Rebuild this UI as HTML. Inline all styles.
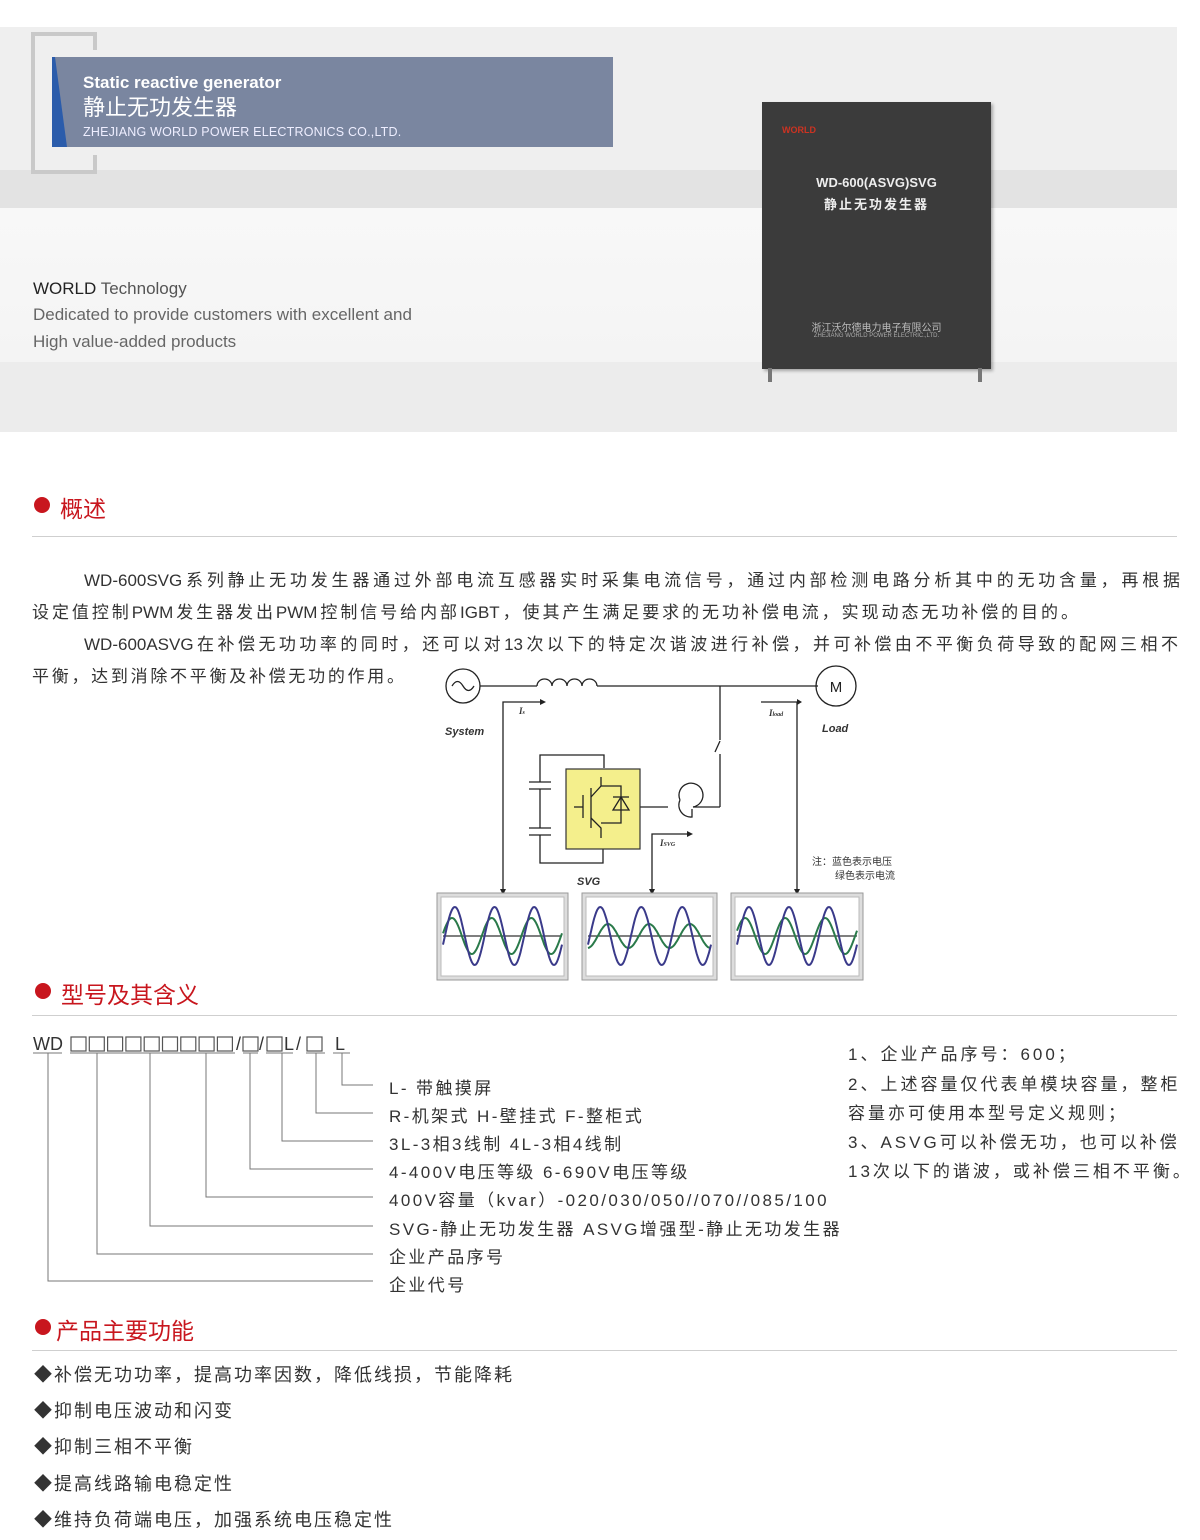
<!DOCTYPE html>
<html><head><meta charset="utf-8">
<style>
*{margin:0;padding:0;box-sizing:border-box}
body{width:1200px;height:1540px;background:#fff;position:relative;overflow:hidden;font-family:"Liberation Sans","Noto Sans CJK SC",sans-serif;color:#333}
.a{position:absolute;white-space:nowrap}
.h{color:#c8161e;font-size:23px}
.dot{position:absolute;width:16px;height:16px;border-radius:50%;background:#c8161e}
.hr{position:absolute;left:32px;width:1145px;height:1px;background:#cfcfcf}
.p{font-size:17px;color:#333;text-align:justify;text-align-last:justify;white-space:normal}
.m{font-size:17px;letter-spacing:2.4px;color:#333}
.n{font-size:17px;letter-spacing:3px;color:#333}
.f{font-size:18px;letter-spacing:2px;color:#333}
</style></head><body>
<div class="a" style="left:0;top:27px;width:1177px;height:143px;background:#efefef"></div>
<div class="a" style="left:0;top:170px;width:1177px;height:38px;background:#e3e3e3"></div>
<div class="a" style="left:0;top:208px;width:1177px;height:154px;background:linear-gradient(#f8f8f8,#f4f4f4)"></div>
<div class="a" style="left:0;top:362px;width:1177px;height:70px;background:#ececec"></div>
<div class="a" style="left:31px;top:32px;width:4px;height:142px;background:#c9c9c9"></div>
<div class="a" style="left:31px;top:32px;width:66px;height:4px;background:#c9c9c9"></div>
<div class="a" style="left:31px;top:170px;width:66px;height:4px;background:#c9c9c9"></div>
<div class="a" style="left:93px;top:32px;width:4px;height:18px;background:#c9c9c9"></div>
<div class="a" style="left:93px;top:155px;width:4px;height:18px;background:#c9c9c9"></div>
<div class="a" style="left:52px;top:57px;width:561px;height:90px;background:#7a86a0"></div>
<svg class="a" style="left:52px;top:57px" width="20" height="90"><polygon points="0,0 3,0 15,90 0,90" fill="#2b5cab"/></svg>
<div class="a" style="left:83px;top:73px;color:#fff;font-size:17px;font-weight:bold">Static reactive generator</div>
<div class="a" style="left:83px;top:94px;color:#fff;font-size:22px;line-height:28px">静止无功发生器</div>
<div class="a" style="left:83px;top:125px;color:#eef;font-size:12.5px;letter-spacing:0.2px">ZHEJIANG WORLD POWER ELECTRONICS CO.,LTD.</div>
<div class="a" style="left:33px;top:279px;font-size:17px;color:#444"><span style="color:#222">WORLD</span> <span style="color:#555">Technology</span></div>
<div class="a" style="left:33px;top:305px;font-size:17px;color:#666">Dedicated to provide customers with excellent and</div>
<div class="a" style="left:33px;top:332px;font-size:17px;color:#666">High value-added products</div>
<div class="a" style="left:762px;top:102px;width:229px;height:267px;background:#3b3b3b;box-shadow:2px 2px 3px rgba(0,0,0,.3)"></div>
<div class="a" style="left:782px;top:125px;color:#c32;font-size:9px;font-weight:bold">WORLD</div>
<div class="a" style="left:762px;top:175px;width:229px;text-align:center;color:#eee;font-size:13px;font-weight:bold">WD-600(ASVG)SVG</div>
<div class="a" style="left:762px;top:194px;width:229px;text-align:center;color:#eee;font-size:13px;font-weight:bold;letter-spacing:2px">静止无功发生器</div>
<div class="a" style="left:762px;top:319px;width:229px;text-align:center;color:#bbb;font-size:10px">浙江沃尔德电力电子有限公司</div>
<div class="a" style="left:762px;top:333px;width:229px;text-align:center;color:#aaa;font-size:6px">ZHEJIANG WORLD POWER ELECTRIC.,LTD.</div>
<div class="a" style="left:768px;top:368px;width:4px;height:14px;background:#777"></div>
<div class="a" style="left:978px;top:368px;width:4px;height:14px;background:#777"></div>

<div class="dot" style="left:34px;top:497px"></div>
<div class="a h" style="left:60px;top:490px">概述</div>
<div class="hr" style="top:536px"></div>
<div class="a p" style="left:84px;top:566px;width:1096px">WD-600SVG系列静止无功发生器通过外部电流互感器实时采集电流信号，通过内部检测电路分析其中的无功含量，再根据</div>
<div class="a p" style="left:32px;top:598px;width:1046px">设定值控制PWM发生器发出PWM控制信号给内部IGBT，使其产生满足要求的无功补偿电流，实现动态无功补偿的目的。</div>
<div class="a p" style="left:84px;top:630px;width:1094px">WD-600ASVG在补偿无功功率的同时，还可以对13次以下的特定次谐波进行补偿，并可补偿由不平衡负荷导致的配网三相不</div>
<div class="a p" style="left:32px;top:662px;width:372px">平衡，达到消除不平衡及补偿无功的作用。</div>

<svg class="a" style="left:0;top:0" width="1200" height="1000">
<g stroke="#222" stroke-width="1.3" fill="none">
<circle cx="463" cy="686" r="17"/>
<path d="M452,686 q5.5,-9 11,0 t11,0"/>
<line x1="480" y1="686" x2="537" y2="686"/>
<path d="M537,686 a7.5,7 0 0 1 15,0 a7.5,7 0 0 1 15,0 a7.5,7 0 0 1 15,0 a7.5,7 0 0 1 15,0"/>
<line x1="597" y1="686" x2="818" y2="686"/>
<circle cx="836" cy="686" r="20"/>
<line x1="720" y1="686" x2="720" y2="740"/>
<line x1="720" y1="741" x2="715" y2="752"/>
<line x1="720" y1="754" x2="720" y2="807"/>
<line x1="720" y1="807" x2="693" y2="807"/>
<path d="M680,800 a12,12 0 1 1 13,7 M680,800 a12,12 0 0 0 12,17 v-8"/>
<line x1="640" y1="807" x2="668" y2="807"/>
<polyline points="604,768 604,755 540,755 540,782"/>
<line x1="529" y1="782" x2="551" y2="782"/><line x1="529" y1="789" x2="551" y2="789"/>
<line x1="540" y1="789" x2="540" y2="828"/>
<line x1="529" y1="828" x2="551" y2="828"/><line x1="529" y1="835" x2="551" y2="835"/>
<polyline points="540,835 540,863 603,863 603,849"/>
<polyline points="503,893 503,702 540,702"/>
<polyline points="652,893 652,834 687,834"/>
<polyline points="761,702 797,702 797,893"/>
</g>
<rect x="566" y="769" width="74" height="80" fill="#f4ef8c" stroke="#333" stroke-width="1.2"/>
<g stroke="#222" stroke-width="1.3" fill="none">
<line x1="574" y1="807" x2="583" y2="807"/><line x1="583" y1="795" x2="583" y2="818"/>
<line x1="591" y1="788" x2="591" y2="828"/>
<polyline points="601,777 601,786 591,797"/><polyline points="591,818 601,828 601,838"/>
<polyline points="601,786 621,786 621,823 601,823"/>
<polygon points="613,810 629,810 621,797"/><line x1="613" y1="797" x2="629" y2="797"/>
</g>
<g fill="#222"><polygon points="540,699 546,702 540,705"/><polygon points="797,699 802,702 797,705"/><polygon points="687,831 693,834 687,837"/>
<polygon points="500,889 503,895 506,889"/><polygon points="649,889 652,895 655,889"/><polygon points="794,889 797,895 800,889"/></g>
<text x="836" y="692" font-size="15" text-anchor="middle" fill="#222" font-family="Liberation Sans">M</text>
<g font-family="Liberation Sans" font-weight="bold" font-style="italic" fill="#333" font-size="11">
<text x="445" y="735">System</text><text x="822" y="732">Load</text><text x="577" y="885">SVG</text>
<text x="519" y="714" font-family="Liberation Serif" font-size="9">I<tspan font-size="6">s</tspan></text>
<text x="769" y="716" font-family="Liberation Serif" font-size="9">I<tspan font-size="6">load</tspan></text>
<text x="660" y="846" font-family="Liberation Serif" font-size="9">I<tspan font-size="6">SVG</tspan></text>
</g>
<text x="812" y="865" font-size="10" fill="#333" font-family="Noto Sans CJK SC">注：蓝色表示电压</text>
<text x="835" y="879" font-size="10" fill="#333" font-family="Noto Sans CJK SC">绿色表示电流</text>
<g id="charts"></g>
</svg>

<div class="dot" style="left:35px;top:983px"></div>
<div class="a h" style="left:61px;top:976px">型号及其含义</div>
<div class="hr" style="top:1015px"></div>
<svg class="a" style="left:0;top:1030px" width="400" height="260">
<g font-family="Liberation Sans" font-size="18" fill="#333">
<text x="33" y="20">WD</text>
<text x="236" y="20">/</text><text x="259" y="20">/</text><text x="284" y="20">L</text><text x="296" y="20">/</text><text x="335" y="20">L</text>
</g>
<g stroke="#555" stroke-width="1.2" fill="none" id="bx"></g>
<g stroke="#777" stroke-width="1" fill="none">
<line x1="33" y1="23" x2="62" y2="23"/><line x1="70" y1="23" x2="235" y2="23"/><line x1="243" y1="23" x2="258" y2="23"/><line x1="266" y1="23" x2="293" y2="23"/><line x1="306" y1="23" x2="325" y2="23"/><line x1="333" y1="23" x2="350" y2="23"/>
<polyline points="342,23 342,55 373,55"/>
<polyline points="316,23 316,83 373,83"/>
<polyline points="282,23 282,111 373,111"/>
<polyline points="250,23 250,139 373,139"/>
<polyline points="206,23 206,167 373,167"/>
<polyline points="150,23 150,196 373,196"/>
<polyline points="97,23 97,224 373,224"/>
<polyline points="48,23 48,251 373,251"/>
</g></svg>
<div class="a m" style="left:389px;top:1074px">L- 带触摸屏</div>
<div class="a m" style="left:389px;top:1102px">R-机架式 H-壁挂式 F-整柜式</div>
<div class="a m" style="left:389px;top:1130px">3L-3相3线制 4L-3相4线制</div>
<div class="a m" style="left:389px;top:1158px">4-400V电压等级 6-690V电压等级</div>
<div class="a m" style="left:389px;top:1186px">400V容量（kvar）-020/030/050//070//085/100</div>
<div class="a m" style="left:389px;top:1215px">SVG-静止无功发生器 ASVG增强型-静止无功发生器</div>
<div class="a m" style="left:389px;top:1243px">企业产品序号</div>
<div class="a m" style="left:389px;top:1271px">企业代号</div>
<div class="a n" style="left:848px;top:1040px">1、企业产品序号：600；</div>
<div class="a n" style="left:848px;top:1070px">2、上述容量仅代表单模块容量，整柜</div>
<div class="a n" style="left:848px;top:1099px">容量亦可使用本型号定义规则；</div>
<div class="a n" style="left:848px;top:1128px">3、ASVG可以补偿无功，也可以补偿</div>
<div class="a n" style="left:848px;top:1157px">13次以下的谐波，或补偿三相不平衡。</div>

<div class="dot" style="left:35px;top:1319px"></div>
<div class="a h" style="left:56px;top:1312px">产品主要功能</div>
<div class="hr" style="top:1350px"></div>
<div class="a f" style="left:34px;top:1361px">◆补偿无功功率，提高功率因数，降低线损，节能降耗</div>
<div class="a f" style="left:34px;top:1397px">◆抑制电压波动和闪变</div>
<div class="a f" style="left:34px;top:1433px">◆抑制三相不平衡</div>
<div class="a f" style="left:34px;top:1470px">◆提高线路输电稳定性</div>
<div class="a f" style="left:34px;top:1506px">◆维持负荷端电压，加强系统电压稳定性</div>

<script>
var bx='',xs=[];for(var i=0;i<9;i++)xs.push(71+i*18.3);xs.push(243,267,307);
xs.forEach(function(x){bx+='<rect x="'+x.toFixed(1)+'" y="7" width="15" height="14"/>';});
document.getElementById('bx').innerHTML=bx;
var g=document.getElementById('charts'),s='';
var boxes=[[437,568,18,0.45],[582,717,12,-1.2],[731,863,18,0.6]];
boxes.forEach(function(b){
 var x0=b[0],x1=b[1],w=x1-x0;
 s+='<rect x="'+x0+'" y="893" width="'+w+'" height="87" fill="#ddd" stroke="#999"/>';
 s+='<rect x="'+(x0+4)+'" y="897" width="'+(w-8)+'" height="79" fill="#fff" stroke="#bbb"/>';
 var cy=936,px0=x0+6,pw=w-12,blue='',grn='';
 for(var i=0;i<=120;i++){var t=i/120,x=px0+t*pw,ph=t*6*Math.PI-0.3;
  blue+=x.toFixed(1)+','+(cy+29*Math.sin(ph+Math.PI)).toFixed(1)+' ';
  grn+=x.toFixed(1)+','+(cy+b[2]*Math.sin(ph+Math.PI+b[3])).toFixed(1)+' ';}
 s+='<line x1="'+px0+'" y1="'+cy+'" x2="'+(px0+pw)+'" y2="'+cy+'" stroke="#333" stroke-width="1.2"/>';
 s+='<polyline points="'+grn+'" fill="none" stroke="#2a7a4a" stroke-width="2"/>';
 s+='<polyline points="'+blue+'" fill="none" stroke="#3a3a8a" stroke-width="2"/>';
});
g.innerHTML=s;
</script>
</body></html>
